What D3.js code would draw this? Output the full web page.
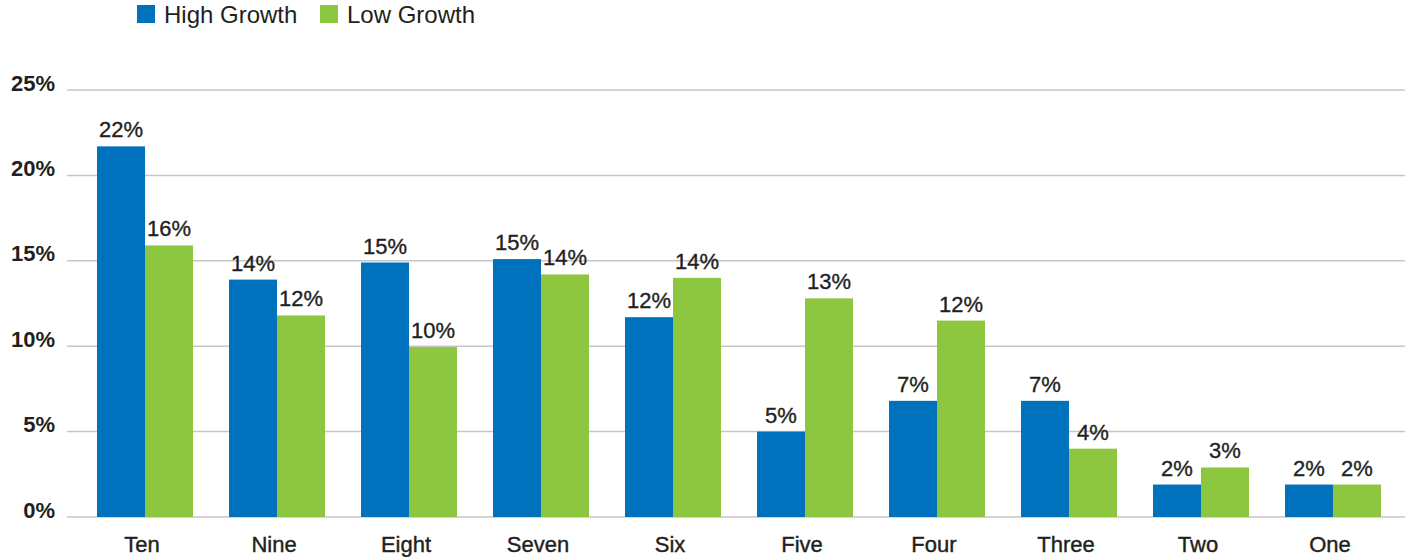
<!DOCTYPE html>
<html><head><meta charset="utf-8">
<script src="https://cdn.jsdelivr.net/npm/d3@7"></script>
<style>
html,body{margin:0;padding:0;background:#fff;}
svg{display:block;font-family:"Liberation Sans",Arial,Helvetica,sans-serif;}
</style></head>
<body><svg id="c" width="1405" height="557"></svg>
<script>
const categories = ["Ten","Nine","Eight","Seven","Six","Five","Four","Three","Two","One"];
const highGrowth = [21.7, 13.9, 14.9, 15.1, 11.7, 5.0, 6.8, 6.8, 1.9, 1.9];
const lowGrowth  = [15.9, 11.8, 9.95, 14.2, 14.0, 12.8, 11.5, 4.0, 2.9, 1.9];
const highLabels = ["22%","14%","15%","15%","12%","5%","7%","7%","2%","2%"];
const lowLabels  = ["16%","12%","10%","14%","14%","13%","12%","4%","3%","2%"];
const yTicks = [0,5,10,15,20,25];
const seriesNames = ["High Growth","Low Growth"];
const colors = ["#0071BC","#8DC63F"];

const svg = d3.select("#c");
const x = d3.scaleBand().domain(categories).range([79,1399]).paddingInner(0.2727).paddingOuter(0.1364);
const x1 = d3.scaleBand().domain(seriesNames).range([0,x.bandwidth()]).padding(0);
const y = d3.scaleLinear().domain([0,25]).range([517,90]);

// gridlines
svg.append("g").selectAll("line").data(yTicks).join("line")
  .attr("x1",67).attr("x2",1405)
  .attr("y1",d=>y(d)).attr("y2",d=>y(d))
  .attr("stroke","#c6c6c6").attr("stroke-width",1.5);

// y labels
svg.append("g").selectAll("text").data(yTicks).join("text")
  .attr("x",55).attr("y",d=>y(d)+0.5)
  .attr("text-anchor","end").attr("font-size",22).attr("font-weight","bold")
  .attr("fill","#231f20").text(d=>d+"%");

const data = categories.map((c,i)=>({c, vals:[
  {s:seriesNames[0], v:highGrowth[i], l:highLabels[i], col:colors[0]},
  {s:seriesNames[1], v:lowGrowth[i], l:lowLabels[i], col:colors[1]}]}));

const g = svg.append("g").selectAll("g").data(data).join("g")
  .attr("transform",d=>`translate(${x(d.c)},0)`);
g.selectAll("rect").data(d=>d.vals).join("rect")
  .attr("x",d=>x1(d.s)).attr("width",x1.bandwidth())
  .attr("y",d=>y(d.v)).attr("height",d=>y(0)-y(d.v))
  .attr("fill",d=>d.col);
g.selectAll("text").data(d=>d.vals).join("text")
  .attr("x",d=>x1(d.s)+x1.bandwidth()/2).attr("y",d=>y(d.v)-9)
  .attr("text-anchor","middle").attr("font-size",22).attr("fill","#231f20")
  .attr("stroke","#231f20").attr("stroke-width",0.35)
  .text(d=>d.l);

// x labels
svg.append("g").selectAll("text").data(categories).join("text")
  .attr("x",d=>x(d)+x.bandwidth()/2-3).attr("y",552)
  .attr("text-anchor","middle").attr("font-size",22).attr("fill","#231f20")
  .attr("stroke","#231f20").attr("stroke-width",0.4)
  .text(d=>d);

// legend
const legX = [137, 320];
const leg = svg.append("g").selectAll("g").data(seriesNames).join("g")
  .attr("transform",(d,i)=>`translate(${legX[i]},0)`);
leg.append("rect").attr("x",0).attr("y",5).attr("width",18).attr("height",18)
  .attr("fill",(d,i)=>colors[i]);
leg.append("text").attr("x",27).attr("y",23).attr("font-size",24).attr("fill","#231f20")
  .text(d=>d);
</script></body></html>
